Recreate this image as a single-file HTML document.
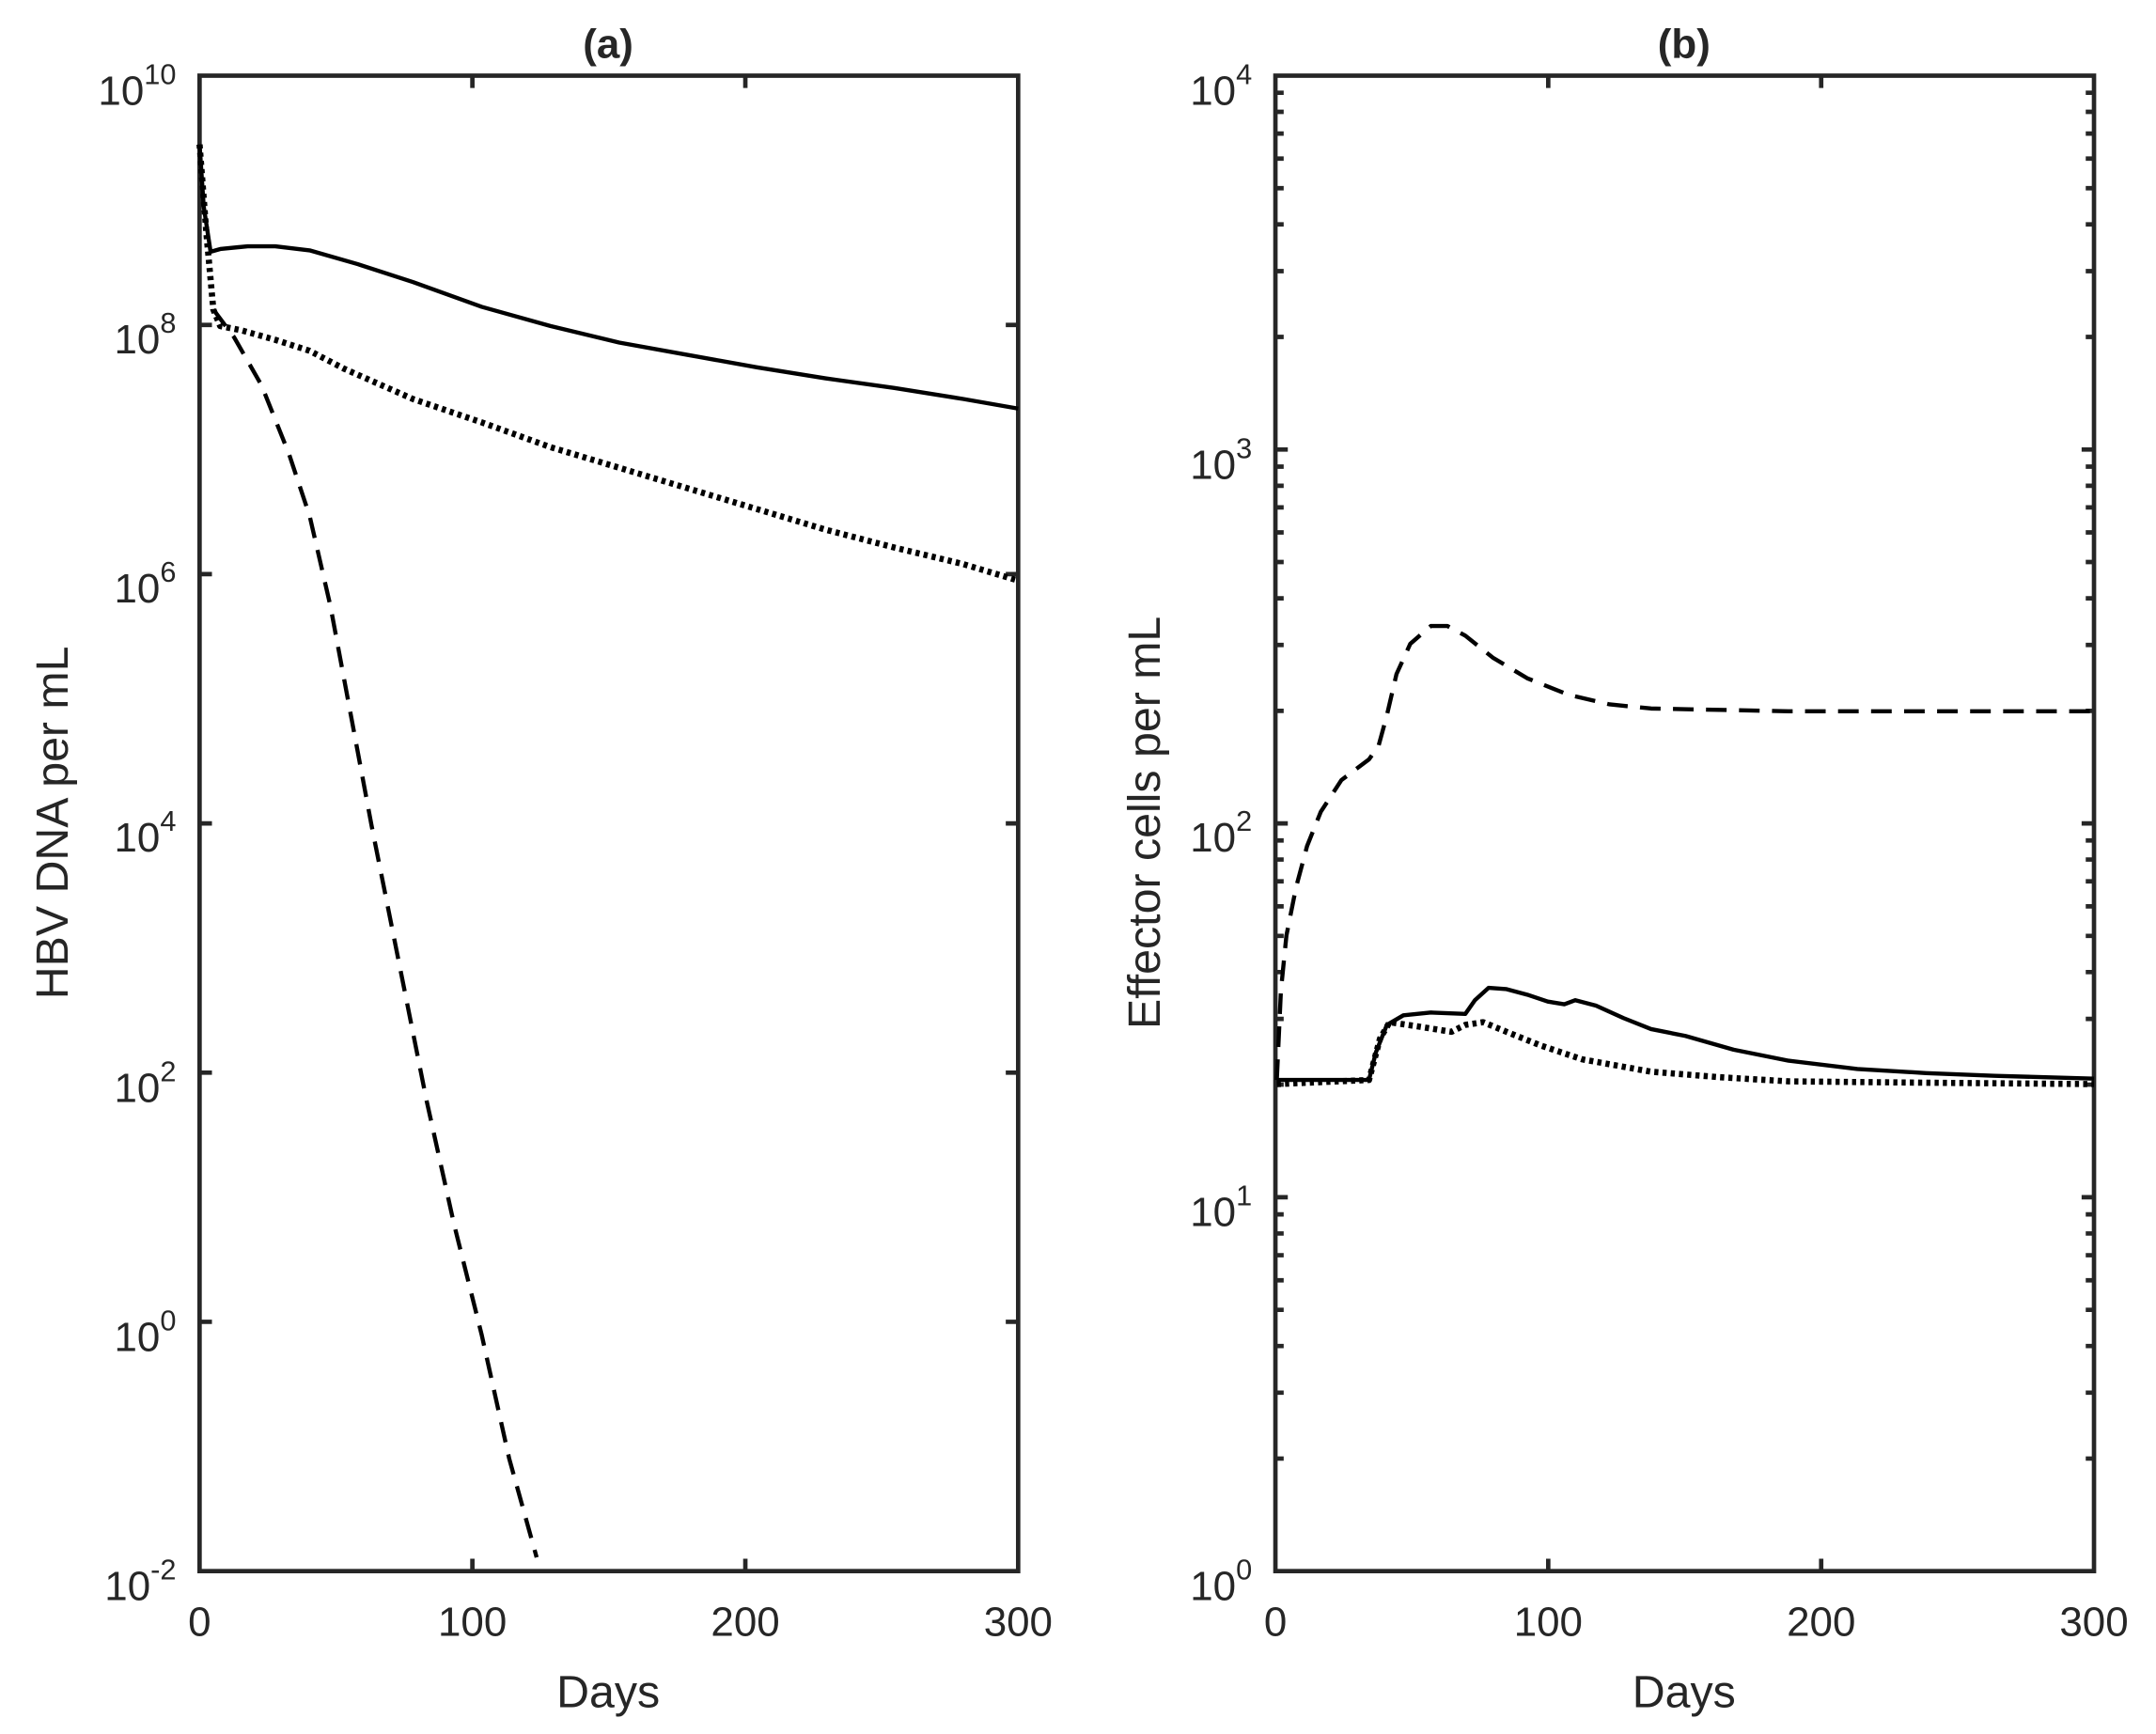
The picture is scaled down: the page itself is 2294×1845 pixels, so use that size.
<!DOCTYPE html>
<html><head><meta charset="utf-8"><style>html,body{margin:0;padding:0;background:#fff}svg{display:block}</style></head>
<body>
<svg width="2294" height="1845" viewBox="0 0 1567 1260.4" xmlns="http://www.w3.org/2000/svg" font-family="Liberation Sans, sans-serif" fill="#262626">
<rect width="1567" height="1260.4" fill="#fff"/>
<!-- Panel a -->
<g stroke="#262626" stroke-width="3.2" fill="none">
<rect x="145" y="55" width="595" height="1087"/>
<path d="M343.3,1142v-9M541.7,1142v-9M343.3,55v9M541.7,55v9
M145,236.2h9M145,417.3h9M145,598.5h9M145,779.7h9M145,960.8h9
M740,236.2h-9M740,417.3h-9M740,598.5h-9M740,779.7h-9M740,960.8h-9"/>
</g>
<g font-size="30" text-anchor="end">
<text x="128" y="76">10<tspan font-size="21" dy="-15">10</tspan></text>
<text x="128" y="257">10<tspan font-size="21" dy="-15">8</tspan></text>
<text x="128" y="438">10<tspan font-size="21" dy="-15">6</tspan></text>
<text x="128" y="619">10<tspan font-size="21" dy="-15">4</tspan></text>
<text x="128" y="801">10<tspan font-size="21" dy="-15">2</tspan></text>
<text x="128" y="982">10<tspan font-size="21" dy="-15">0</tspan></text>
<text x="128" y="1163">10<tspan font-size="21" dy="-15">-2</tspan></text>
</g>
<g font-size="30" text-anchor="middle">
<text x="145" y="1189">0</text><text x="343.3" y="1189">100</text><text x="541.7" y="1189">200</text><text x="740" y="1189">300</text>
<text x="442" y="1241" font-size="33">Days</text>
<text x="442" y="42" font-size="30" font-weight="bold">(a)</text>
<text transform="translate(49,598) rotate(-90)" font-size="33">HBV DNA per mL</text>
</g>
<g fill="none" stroke="#000" stroke-width="3" stroke-linejoin="round">
<polyline points="145,105 148,150 153,183 160,181 180,179 200,179 225,182 260,192 300,205 350,223 400,237 450,249 500,258 550,267 600,275 650,282 700,290 740,297"/>
<polyline stroke-dasharray="3 3" stroke-width="4.5" points="145,105 150,170 155,225 160,237 175,240 200,247 225,255 250,268 300,290 350,307 400,325 450,340 500,355 550,370 600,385 650,398 700,410 740,422"/>
<polyline stroke-dasharray="15 9" points="155,225 170,245 190,280 210,330 225,375 240,440 255,520 270,600 290,700 310,800 330,890 350,970 370,1060 390,1132"/>
</g>
<!-- Panel b -->
<g stroke="#262626" stroke-width="3.2" fill="none">
<rect x="927" y="55" width="595" height="1087"/>
<path d="M1125.3,1142v-9M1323.7,1142v-9M1125.3,55v9M1323.7,55v9" />
</g>
<g stroke="#262626" stroke-width="3.2">
<path d="
M927,326.75h9M927,598.5h9M927,870.25h9
M1522,326.75h-9M1522,598.5h-9M1522,870.25h-9
M927,1060.2h6M927,1012.3h6M927,978.4h6M927,952.1h6M927,930.6h6M927,912.4h6M927,896.6h6M927,882.7h6
M927,788.4h6M927,740.6h6M927,706.6h6M927,680.3h6M927,658.8h6M927,640.6h6M927,624.8h6M927,610.9h6
M927,516.7h6M927,468.8h6M927,434.9h6M927,408.5h6M927,387.0h6M927,368.8h6M927,353.1h6M927,339.2h6
M927,244.9h6M927,197.1h6M927,163.1h6M927,136.8h6M927,115.3h6M927,97.1h6M927,81.3h6M927,67.4h6
M1522,1060.2h-6M1522,1012.3h-6M1522,978.4h-6M1522,952.1h-6M1522,930.6h-6M1522,912.4h-6M1522,896.6h-6M1522,882.7h-6
M1522,788.4h-6M1522,740.6h-6M1522,706.6h-6M1522,680.3h-6M1522,658.8h-6M1522,640.6h-6M1522,624.8h-6M1522,610.9h-6
M1522,516.7h-6M1522,468.8h-6M1522,434.9h-6M1522,408.5h-6M1522,387.0h-6M1522,368.8h-6M1522,353.1h-6M1522,339.2h-6
M1522,244.9h-6M1522,197.1h-6M1522,163.1h-6M1522,136.8h-6M1522,115.3h-6M1522,97.1h-6M1522,81.3h-6M1522,67.4h-6"/>
</g>
<g font-size="30" text-anchor="end">
<text x="910" y="76">10<tspan font-size="21" dy="-15">4</tspan></text>
<text x="910" y="348">10<tspan font-size="21" dy="-15">3</tspan></text>
<text x="910" y="619">10<tspan font-size="21" dy="-15">2</tspan></text>
<text x="910" y="891">10<tspan font-size="21" dy="-15">1</tspan></text>
<text x="910" y="1163">10<tspan font-size="21" dy="-15">0</tspan></text>
</g>
<g font-size="30" text-anchor="middle">
<text x="927" y="1189">0</text><text x="1125.3" y="1189">100</text><text x="1323.7" y="1189">200</text><text x="1522" y="1189">300</text>
<text x="1224" y="1241" font-size="33">Days</text>
<text x="1224" y="42" font-size="30" font-weight="bold">(b)</text>
<text transform="translate(843,598) rotate(-90)" font-size="33">Effector cells per mL</text>
</g>
<g fill="none" stroke="#000" stroke-width="3" stroke-linejoin="round">
<polyline points="928,785 995,785 1000,765 1008,745 1020,738 1040,736 1065,737 1072,727 1082,718 1095,719 1110,723 1125,728 1137,730 1145,727 1160,731 1180,740 1200,748 1225,753 1260,763 1300,771 1350,777 1400,780 1450,782 1522,784"/>
<polyline stroke-dasharray="3 3" stroke-width="4.5" points="928,788 995,785 1003,755 1010,743 1030,746 1055,750 1065,745 1078,743 1095,750 1120,760 1150,770 1200,779 1250,783 1300,786 1400,787 1522,788"/>
<polyline stroke-dasharray="15 9" points="928,785 931,720 935,680 942,645 950,615 960,590 975,567 995,552 1002,542 1008,520 1015,490 1025,468 1040,455 1052,455 1065,462 1085,478 1110,493 1140,505 1170,512 1200,515 1300,517 1522,517"/>
</g>
</svg>
</body></html>
